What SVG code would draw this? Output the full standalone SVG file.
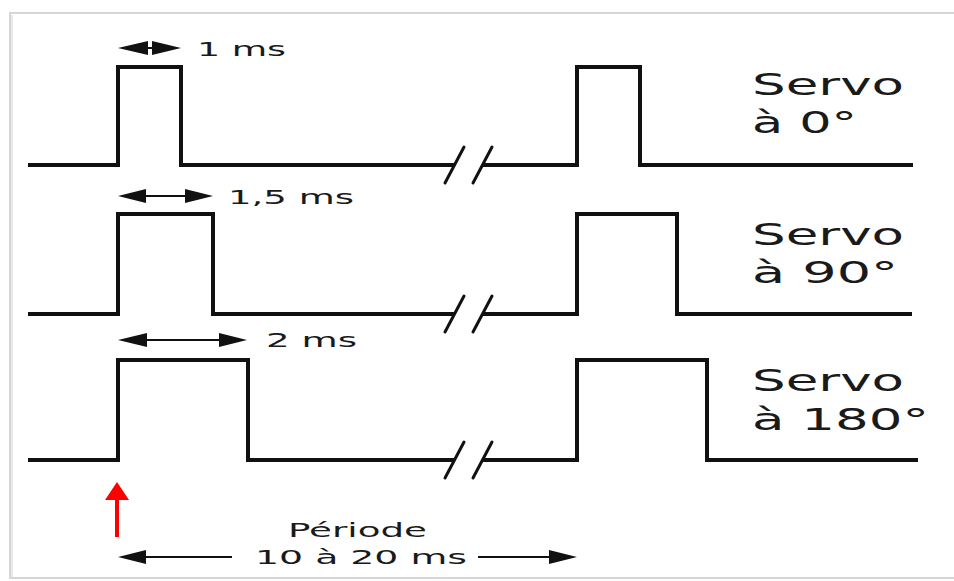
<svg xmlns="http://www.w3.org/2000/svg" width="954" height="581" viewBox="0 0 954 581">
  <style>
    .sig { fill: none; stroke: #111; stroke-width: 4; stroke-linejoin: miter; }
    .brk { stroke: #111; stroke-width: 3; stroke-linecap: round; }
    .dim { stroke: #111; stroke-width: 2; }
    .head { fill: #111; }
    .big { font-family: "DejaVu Sans", Verdana, sans-serif; font-size: 30px; fill: #1a1a1a; }
    .small { font-family: "DejaVu Sans", Verdana, sans-serif; font-size: 20px; fill: #1a1a1a; }
  </style>
  <rect x="0" y="0" width="954" height="581" fill="#ffffff"/>
  <g id="frame">
    <rect x="10" y="13" width="1000" height="565" fill="#ffffff" stroke="#d6d6d6" stroke-width="2"/>
    <line x1="12" y1="15" x2="12" y2="577" stroke="#e8e8e8" stroke-width="2"/>
  </g>

  <g id="row1">
    <polyline class="sig" points="28,165 118,165 118,67 181,67 181,165 455,165"/>
    <polyline class="sig" points="483,165 577,165 577,67 640,67 640,165 913,165"/>
    <line class="brk" x1="445" y1="183" x2="464" y2="147"/>
    <line class="brk" x1="473" y1="183" x2="492" y2="147"/>
  </g>

  <g id="row2">
    <polyline class="sig" points="28,314 118,314 118,214 213,214 213,314 455,314"/>
    <polyline class="sig" points="483,314 577,314 577,214 677,214 677,314 912,314"/>
    <line class="brk" x1="445" y1="332" x2="464" y2="296"/>
    <line class="brk" x1="473" y1="332" x2="492" y2="296"/>
  </g>

  <g id="row3">
    <polyline class="sig" points="28,460 118,460 118,360 248,360 248,460 455,460"/>
    <polyline class="sig" points="483,460 577,460 577,360 707,360 707,460 918,460"/>
    <line class="brk" x1="445" y1="478" x2="464" y2="442"/>
    <line class="brk" x1="473" y1="478" x2="492" y2="442"/>
  </g>

  <g id="connectors">
    <line class="dim" x1="130" y1="48" x2="168" y2="48"/>
    <polygon class="head" points="118,48 148,41 148,55"/>
    <polygon class="head" points="181,48 152,41 152,55"/>
    <line class="dim" x1="130" y1="196" x2="200" y2="196"/>
    <polygon class="head" points="118,196 146,189 146,203"/>
    <polygon class="head" points="213,196 185,189 185,203"/>
    <line class="dim" x1="130" y1="340" x2="235" y2="340"/>
    <polygon class="head" points="118,340 147,333 147,347"/>
    <polygon class="head" points="247,340 219,333 219,347"/>
    <line class="dim" x1="130" y1="557" x2="232" y2="557"/>
    <polygon class="head" points="118,557 146,550 146,564"/>
    <line class="dim" x1="478" y1="557" x2="560" y2="557"/>
    <polygon class="head" points="577,557 549,550 549,564"/>
    <line x1="117" y1="495" x2="117" y2="537" stroke="#ff0000" stroke-width="4"/>
    <polygon points="117,482 105,500 129,500" fill="#ff0000"/>
  </g>

  <g id="labels">
    <text class="small" x="197" y="56" textLength="89" lengthAdjust="spacingAndGlyphs">1 ms</text>
    <text class="small" x="228" y="204" textLength="126" lengthAdjust="spacingAndGlyphs">1,5 ms</text>
    <text class="small" x="266" y="347" textLength="91" lengthAdjust="spacingAndGlyphs">2 ms</text>
    <text class="small" x="288" y="537" textLength="139" lengthAdjust="spacingAndGlyphs">Période</text>
    <text class="small" x="255" y="564" textLength="212" lengthAdjust="spacingAndGlyphs">10 à 20 ms</text>
    <text class="big" x="752" y="95" textLength="152" lengthAdjust="spacingAndGlyphs">Servo</text>
    <text class="big" x="752" y="133" textLength="105" lengthAdjust="spacingAndGlyphs">à 0°</text>
    <text class="big" x="752" y="245" textLength="152" lengthAdjust="spacingAndGlyphs">Servo</text>
    <text class="big" x="752" y="283" textLength="146" lengthAdjust="spacingAndGlyphs">à 90°</text>
    <text class="big" x="752" y="391" textLength="152" lengthAdjust="spacingAndGlyphs">Servo</text>
    <text class="big" x="752" y="430" textLength="177" lengthAdjust="spacingAndGlyphs">à 180°</text>
  </g>
</svg>
